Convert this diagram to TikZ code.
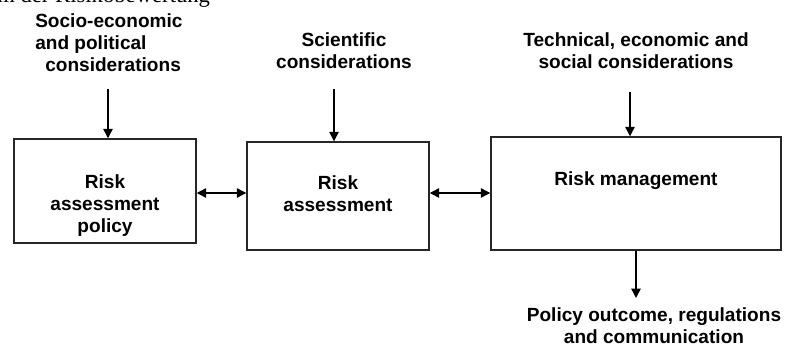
\documentclass[tikz,border=0pt]{standalone}
\usepackage{fontspec}
\setmainfont{Liberation Sans}
\newfontfamily\capfont{Liberation Serif}
\usetikzlibrary{arrows.meta}
\begin{document}
\begin{tikzpicture}[x=0.75pt,y=-0.75pt,
  lbl/.style={font=\fontsize{14.3}{16.5}\selectfont\bfseries, inner sep=0pt, align=center},
  boxnode/.style={draw=black!85, line width=1.1pt, rectangle, inner sep=0pt},
  arr/.style={line width=1pt, -{Triangle[length=7pt,width=7pt]}},
  darr/.style={line width=1pt, {Triangle[length=7pt,width=7pt]}-{Triangle[length=7pt,width=7pt]}}
]
\useasboundingbox (0,0) rectangle (795,343);
\clip (0,0) rectangle (795,343);
% clipped caption fragment at the top
\node[anchor=base west, inner sep=0pt, font=\capfont\fontsize{17}{20}\selectfont] (cap) at (-3,2) {m der Risikobewertung};
% boxes
\node[boxnode, minimum width=182*0.75pt, minimum height=104*0.75pt] (b1) at (105,191) {};
\node[boxnode, minimum width=182*0.75pt, minimum height=108*0.75pt] (b2) at (338,196) {};
\node[boxnode, minimum width=290*0.75pt, minimum height=113*0.75pt] (b3) at (636,193.5) {};
% box texts (base anchor = baseline of the last line)
\node[lbl, anchor=base] (t1) at (105,232.5) {Risk\\assessment\\policy};
\node[lbl, anchor=base] (t2) at (338,211.5) {Risk\\assessment};
\node[lbl, anchor=base] (t3) at (636,185) {Risk management};
% top texts
\node[lbl, anchor=base west, align=left] (s1) at (35,71.5) {Socio-economic\\and political\\\hspace{7.5pt}considerations};
\node[lbl, anchor=base] (s2) at (344,68.3) {Scientific\\considerations};
\node[lbl, anchor=base] (s3) at (636,68.3) {Technical, economic and\\social considerations};
\node[lbl, anchor=base] (s4) at (654,343) {Policy outcome, regulations\\and communication};
% connector start points
\coordinate (c1) at (108,89);
\coordinate (c2) at (334,89);
\coordinate (c3) at (630,92);
\coordinate (c4) at (636,298);
\draw[arr] (c1) -- (c1 |- b1.north);
\draw[arr] (c2) -- (c2 |- b2.north);
\draw[arr] (c3) -- (c3 |- b3.north);
\draw[arr] (c4 |- b3.south) -- (c4);
\draw[darr] (b1.east |- 0,193) -- (b2.west |- 0,193);
\draw[darr] (b2.east |- 0,193) -- (b3.west |- 0,193);
\end{tikzpicture}
\end{document}
